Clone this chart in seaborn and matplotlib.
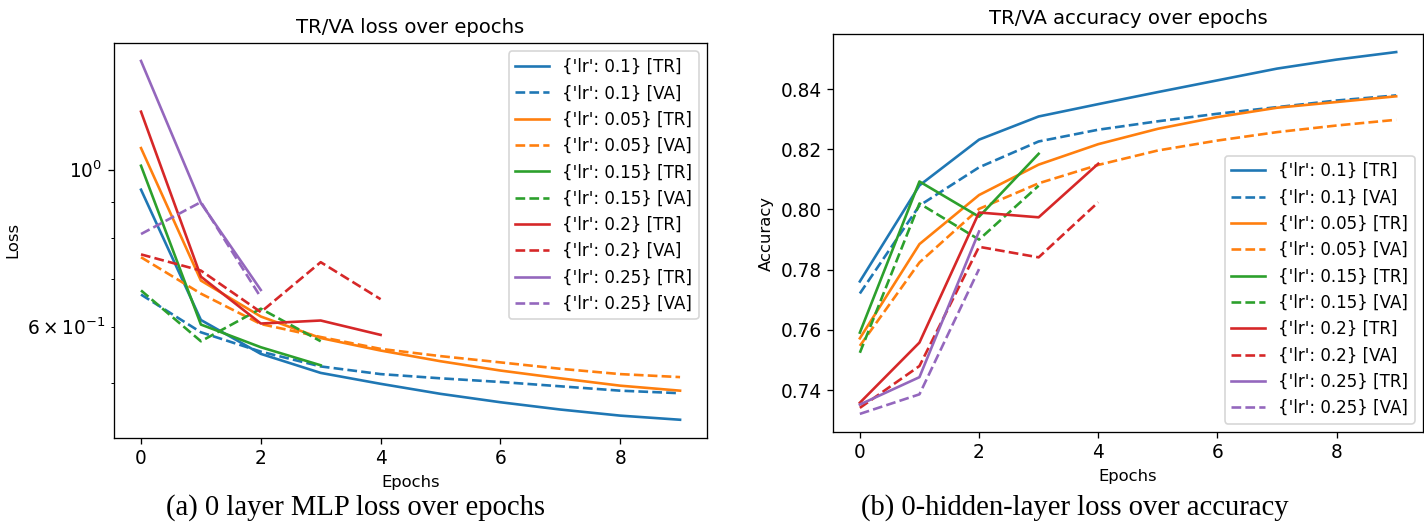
import matplotlib
matplotlib.use("Agg")
import matplotlib.pyplot as plt
import seaborn as sns

# learning rates in legend order
learning_rates = ["0.1", "0.05", "0.15", "0.2", "0.25"]
colors = ["#1f77b4", "#ff7f0e", "#2ca02c", "#d62728", "#9467bd"]

# training / validation loss per learning rate
loss_tr_01 = [0.937, 0.613, 0.549, 0.516, 0.498, 0.482, 0.469, 0.458, 0.449, 0.443]
loss_va_01 = [0.666, 0.589, 0.553, 0.527, 0.514, 0.507, 0.501, 0.494, 0.487, 0.483]
loss_tr_005 = [1.073, 0.697, 0.620, 0.578, 0.555, 0.536, 0.520, 0.507, 0.495, 0.487]
loss_va_005 = [0.752, 0.668, 0.605, 0.580, 0.558, 0.545, 0.534, 0.523, 0.514, 0.509]
loss_tr_015 = [1.013, 0.604, 0.561, 0.529]
loss_va_015 = [0.675, 0.572, 0.636, 0.572]
loss_tr_02 = [1.208, 0.706, 0.606, 0.612, 0.584]
loss_va_02 = [0.759, 0.720, 0.629, 0.740, 0.656]
loss_tr_025 = [1.425, 0.897, 0.676]
loss_va_025 = [0.811, 0.900, 0.660]

# training / validation accuracy per learning rate
acc_tr_01 = [0.7761, 0.8080, 0.8232, 0.8309, 0.8350, 0.8390, 0.8429, 0.8468, 0.8498, 0.8523]
acc_va_01 = [0.7721, 0.8013, 0.8140, 0.8226, 0.8265, 0.8293, 0.8318, 0.8340, 0.8362, 0.8379]
acc_tr_005 = [0.7572, 0.7885, 0.8048, 0.8149, 0.8217, 0.8268, 0.8307, 0.8338, 0.8357, 0.8376]
acc_va_005 = [0.7547, 0.7824, 0.8002, 0.8087, 0.8148, 0.8196, 0.8229, 0.8257, 0.8279, 0.8298]
acc_tr_015 = [0.7591, 0.8093, 0.7976, 0.8185]
acc_va_015 = [0.7524, 0.8020, 0.7900, 0.8079]
acc_tr_02 = [0.7358, 0.7558, 0.7990, 0.7974, 0.8152]
acc_va_02 = [0.7341, 0.7480, 0.7876, 0.7841, 0.8024]
acc_tr_025 = [0.7352, 0.7443, 0.7927]
acc_va_025 = [0.7321, 0.7386, 0.7802]

loss_runs = [(loss_tr_01, loss_va_01), (loss_tr_005, loss_va_005), (loss_tr_015, loss_va_015),
             (loss_tr_02, loss_va_02), (loss_tr_025, loss_va_025)]
acc_runs = [(acc_tr_01, acc_va_01), (acc_tr_005, acc_va_005), (acc_tr_015, acc_va_015),
            (acc_tr_02, acc_va_02), (acc_tr_025, acc_va_025)]

plt.rcParams["xtick.labelsize"] = 11.3
plt.rcParams["ytick.labelsize"] = 11.3
plt.rcParams["legend.fontsize"] = 10.15
plt.rcParams["legend.labelspacing"] = 0.5

DPI = 118
fig = plt.figure(figsize=(1424 / DPI, 529 / DPI), dpi=DPI)
ax_loss = fig.add_axes([0.0801, 0.1726, 0.4164, 0.7461])
ax_acc = fig.add_axes([0.5850, 0.1834, 0.4143, 0.7524])


def draw_runs(ax, runs):
    for lr, color, (tr, va) in zip(learning_rates, colors, runs):
        sns.lineplot(x=list(range(len(tr))), y=tr, ax=ax, color=color,
                     linestyle="-", linewidth=1.6, label="{'lr': %s} [TR]" % lr)
        sns.lineplot(x=list(range(len(va))), y=va, ax=ax, color=color,
                     linestyle="--", linewidth=1.6, label="{'lr': %s} [VA]" % lr)


draw_runs(ax_loss, loss_runs)
ax_loss.set_yscale("log")
ax_loss.set_title("TR/VA loss over epochs")
ax_loss.set_xlabel("Epochs")
ax_loss.set_ylabel("Loss")
ax_loss.set_xticks([0, 2, 4, 6, 8])
ax_loss.legend(loc="upper right")

draw_runs(ax_acc, acc_runs)
ax_acc.set_title("TR/VA accuracy over epochs")
ax_acc.set_xlabel("Epochs")
ax_acc.set_ylabel("Accuracy")
ax_acc.set_xticks([0, 2, 4, 6, 8])
ax_acc.legend(loc="lower right")

cap_font = dict(family="Liberation Serif", fontsize=17.5, ha="center", va="center")
fig.text(0.250, 0.040, "(a) 0 layer MLP loss over epochs", **cap_font)
fig.text(0.755, 0.040, "(b) 0-hidden-layer loss over accuracy", **cap_font)

fig.savefig("out.png", dpi=DPI)
